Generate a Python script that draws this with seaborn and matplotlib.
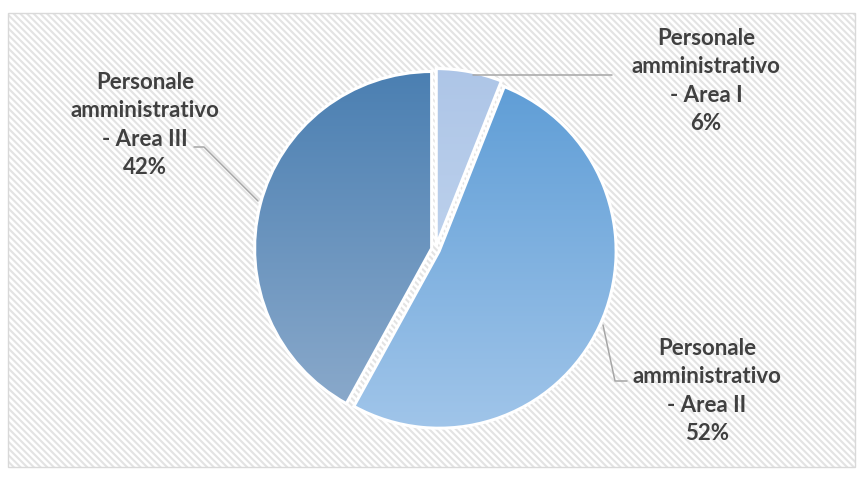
import matplotlib
matplotlib.use("Agg")
import matplotlib.pyplot as plt
import numpy as np
import seaborn as sns
from matplotlib.patches import Rectangle

# data
categories = ["Personale\namministrativo\n- Area I",
              "Personale\namministrativo\n- Area II",
              "Personale\namministrativo\n- Area III"]
values = [6, 52, 42]

# gradient colours for each slice (top -> bottom)
grad_colors = [("#adc5e7", "#cbdcf1"),
               ("#5b9bd5", "#a2c6ea"),
               ("#497eb1", "#90adcd")]

sns.set_theme(style="white")
plt.rcParams['font.family'] = ['Lato', 'DejaVu Sans']
plt.rcParams['hatch.linewidth'] = 1.5

W, H = 862, 479
fig = plt.figure(figsize=(W / 100, H / 100), dpi=100)
fig.patch.set_facecolor("white")

# hatched chart area + border
fig.patches.append(Rectangle((8 / W, 1 - 467 / H), 847 / W, 454 / H, transform=fig.transFigure,
                             facecolor="white", edgecolor="#e3e3e3", linewidth=0,
                             hatch="\\\\\\\\\\", zorder=0))
fig.patches.append(Rectangle((8 / W, 1 - 467 / H), 847 / W, 454 / H, transform=fig.transFigure,
                             fill=False, edgecolor="#d9d9d9", linewidth=1, zorder=1))

ax = fig.add_axes([0, 0, 1, 1])
ax.set_facecolor("none")
ax.set_zorder(5)

cx, cy, r = 435.5, H - 249.5, 177
wedges, _ = ax.pie(values, center=(cx, cy), radius=r, startangle=90, counterclock=False,
                   explode=[4, 4, 4], colors=[c[0] for c in grad_colors],
                   wedgeprops=dict(edgecolor="white", linewidth=2.2, zorder=3))

grad = np.linspace(0, 1, 256).reshape(-1, 1)
for w, (c0, c1) in zip(wedges, grad_colors):
    cmap = sns.blend_palette([c0, c1], n_colors=256, as_cmap=True)
    im = ax.imshow(grad, cmap=cmap, aspect="auto", origin="upper",
                   extent=(cx - r - 12, cx + r + 12, cy - r - 12, cy + r + 12), zorder=2)
    im.set_clip_path(w)
    w.set_facecolor("none")

# labels with leader lines (pixel positions, y from top)
label_pos = [(706, 81), (707, 391), (145, 125)]
leaders = [[(473, 75), (612, 75)],
           [(603, 325), (615, 381), (627, 381)],
           [(194, 147), (204, 147), (258, 201)]]
for cat, v, (lx, ly), pts in zip(categories, values, label_pos, leaders):
    ax.text(lx, H - ly, f"{cat}\n{v}%", ha="center", va="center", fontsize=16,
            fontweight="bold", color="#404040", linespacing=1.42, zorder=4)
    xs = [p[0] for p in pts]
    ys = [H - p[1] for p in pts]
    ax.plot(xs, ys, color="#a6a6a6", linewidth=1.1, zorder=4)

ax.set_xlim(0, W)
ax.set_ylim(0, H)
ax.set_axis_off()

fig.savefig("out.png", dpi=100)
